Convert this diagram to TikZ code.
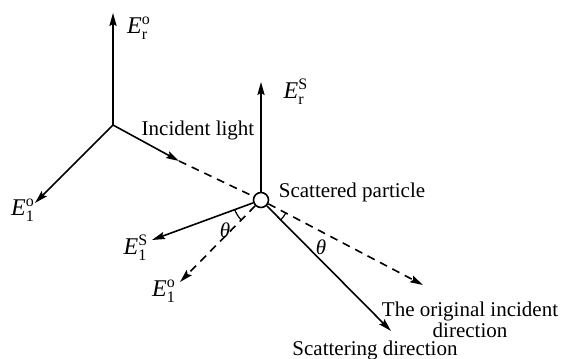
\documentclass[tikz,border=0pt]{standalone}
\usepackage{amsmath}
\usepackage{fontspec}
\setmainfont{Liberation Serif}
\usetikzlibrary{arrows.meta}
\newcommand{\fieldE}[2]{\textit{E}$^{\text{#1}}_{\text{#2}}$}

\begin{document}
\begin{tikzpicture}[x=0.5pt,y=0.5pt,line width=0.8pt,
		vec/.style={-{Stealth[length=6.5pt,width=3.6pt,inset=1pt]}},
		guide/.style={dash pattern=on 4pt off 3pt},
		lbl/.style={font=\fontsize{10.5}{9.5}\selectfont,inner sep=0pt},
		flbl/.style={font=\fontsize{12}{14}\selectfont,inner sep=0pt}]
	\useasboundingbox (0,0) rectangle (561,358);
	\coordinate (o) at (113,233);
	\coordinate (ero) at (113,345);
	\coordinate (elo) at (35,155);
	\coordinate (inc) at (179,197);
	\coordinate (ers) at (261,276);
	\coordinate (orig) at (423,73);
	\coordinate (scat) at (391,27);
	\coordinate (els) at (152,118);
	\coordinate (elp) at (180,76);
	\node[circle,draw,fill=white,minimum size=7.5pt,inner sep=0pt] (p) at (261,158) {};
	\draw[vec] (o) -- (ero);
	\draw[vec] (o) -- (elo);
	\draw[vec] (o) -- (inc);
	\draw[guide] (inc) -- (p);
	\draw[vec] (p) -- (ers);
	\draw[vec,guide] (p) -- (orig);
	\draw[vec] (p) -- (scat);
	\draw[vec] (p) -- (els);
	\draw[vec,guide] (p) -- (elp);
	\draw[line width=0.6pt] ([shift={(200:28)}]p.center) arc (200:225:28);
	\draw[line width=0.6pt] ([shift={(-45:28)}]p.center) arc (-45:-28:28);
	\node[flbl] (lero) at (139,330) {\fieldE{o}{r}};
	\node[flbl] (lelo) at (23,148) {\fieldE{o}{1}};
	\node[flbl] (lers) at (296,266) {\fieldE{S}{r}};
	\node[flbl] (lels) at (136,110) {\fieldE{S}{1}};
	\node[flbl] (lelp) at (164,67) {\fieldE{o}{1}};
	\node[lbl] (linc) at (198,228) {Incident light};
	\node[lbl] (lp) at (352,166) {Scattered particle};
	\node[lbl] (lthl) at (225,128) {\textit{θ}};
	\node[lbl] (lthr) at (321,111) {\textit{θ}};
	\node[lbl,align=center] (lorig) at (470,38) {The original incident\\direction};
	\node[lbl,anchor=base] (lscat) at (375,3) {Scattering direction};
\end{tikzpicture}
\end{document}
